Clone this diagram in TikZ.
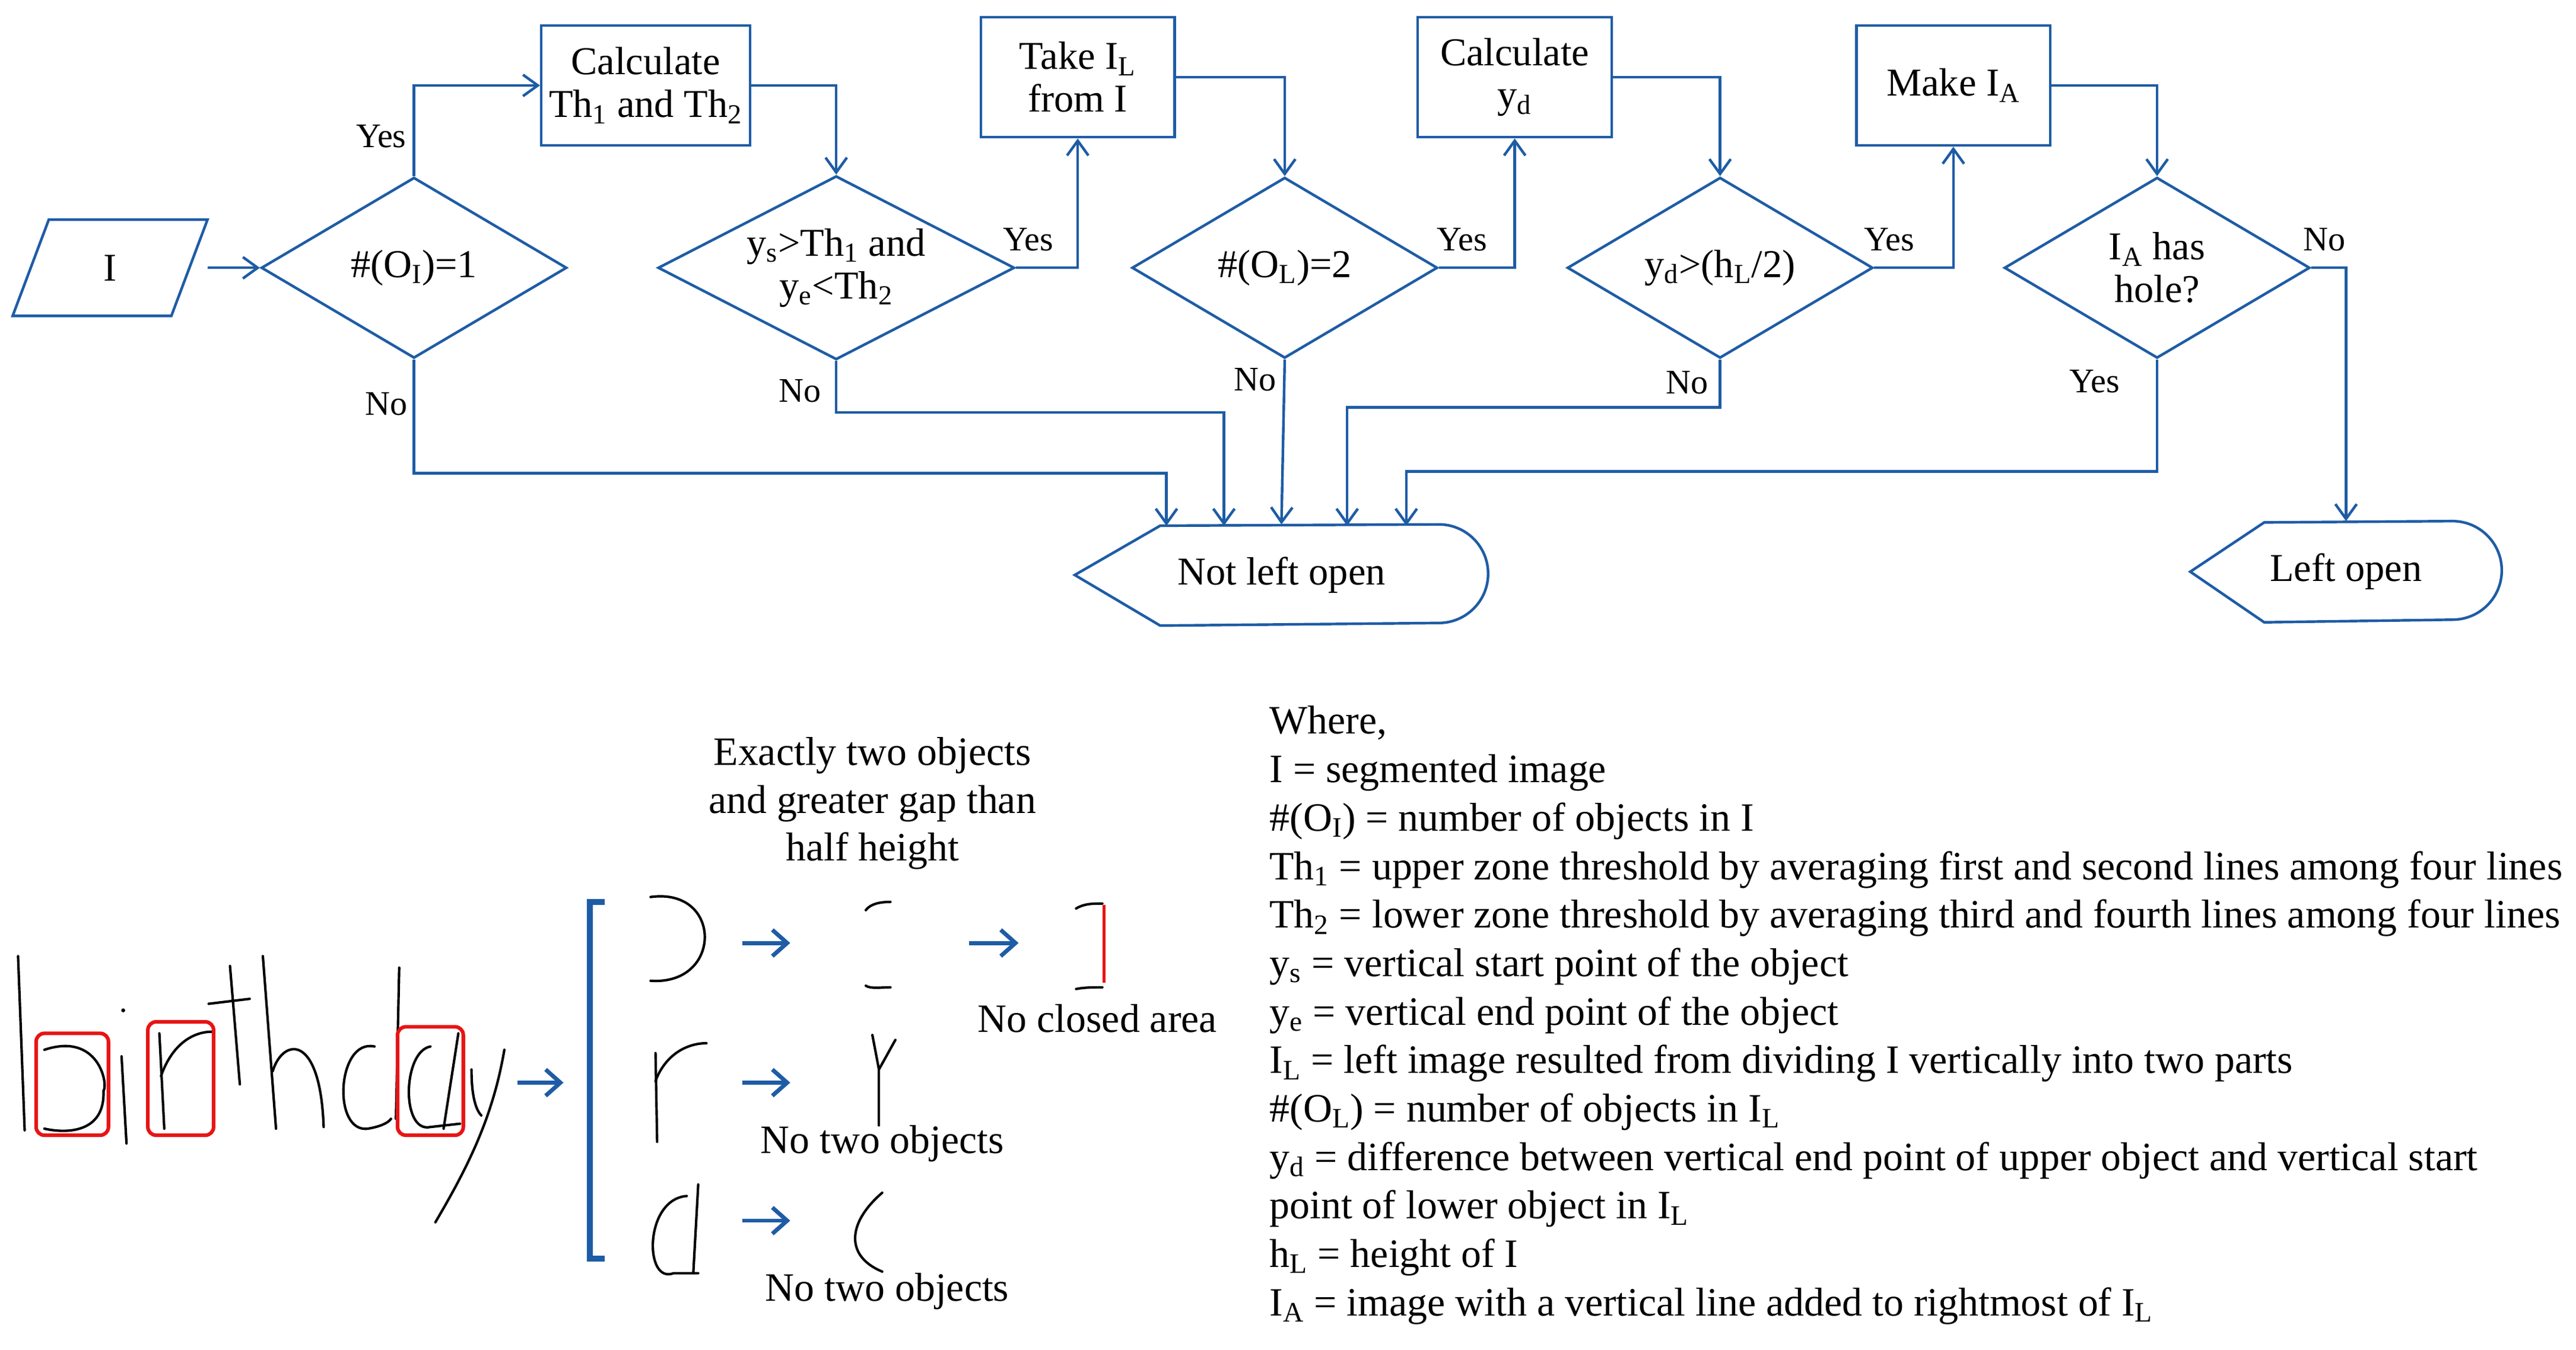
\documentclass[tikz,border=0pt]{standalone}
\usepackage{fontspec}
\setmainfont{Liberation Serif}
\usetikzlibrary{shapes.geometric,arrows.meta,calc}
\definecolor{fb}{RGB}{30,92,165}
\definecolor{rd}{RGB}{232,20,20}
\begin{document}
\begin{tikzpicture}[x=1pt,y=1pt,
  line width=1.6pt,
  ft/.style={font=\fontsize{24}{26}\selectfont},
  lab/.style={font=\fontsize{21}{23}\selectfont},
  box/.style={draw=fb,rectangle,minimum width=118,minimum height=73,inner sep=0,align=center,ft},
  dia/.style={draw=fb,diamond,aspect=1.7,minimum width=186,minimum height=110,inner sep=0,align=center,ft},
  con/.style={draw=fb,-{Straight Barb[length=9pt,width=13pt]}},
  hw/.style={black,line width=1.5pt,line cap=round},
  rb/.style={rd,line width=2.2pt,rounded corners=5pt},
  barr/.style={fb,line width=2.5pt,-{Straight Barb[length=9pt,width=16pt]}},
  txt/.style={font=\fontsize{24.5}{27}\selectfont,inner sep=0}
]
\useasboundingbox (0,0) rectangle (1568,-821.4);
% input
\node[inner sep=0,minimum width=117,minimum height=57,ft] (in) at (67,-163) {I};
\draw[fb] ($(in.south west)$) -- ($(in.north west)+(22,0)$) -- (in.north east) -- ($(in.south east)+(-22,0)$) -- cycle;
\node[dia] (d1) at (252,-163) {\#(O\textsubscript{I})=1};
\node[box,minimum width=127] (b1) at (393,-52) {Calculate\\Th\textsubscript{1} and Th\textsubscript{2}};
\node[dia,minimum width=217] (d2) at (509,-163) {y\textsubscript{s}>Th\textsubscript{1} and\\y\textsubscript{e}<Th\textsubscript{2}};
\node[box] (b2) at (656,-47) {Take I\textsubscript{L}\\from I};
\node[dia] (d3) at (782,-163) {\#(O\textsubscript{L})=2};
\node[box] (b3) at (922,-47) {Calculate\\y\textsubscript{d}};
\node[dia] (d4) at (1047,-163) {y\textsubscript{d}>(h\textsubscript{L}/2)};
\node[box] (b4) at (1189,-52) {Make I\textsubscript{A}};
\node[dia] (d5) at (1313,-163) {I\textsubscript{A} has\\hole?};
% terminals
\node[minimum width=250,minimum height=60,inner sep=0,ft] (nlo) at (780,-350) {Not left open};
\draw[fb] (nlo.west) -- ++(52,30) -- ($(nlo.north east)+(-30,0)$) arc (90:-90:30) -- ($(nlo.south west)+(52,0)$) -- cycle;
\node[minimum width=188,minimum height=60,inner sep=0,ft] (lo) at (1428,-348) {Left open};
\draw[fb] (lo.west) -- ++(45,30) -- ($(lo.north east)+(-30,0)$) arc (90:-90:30) -- ($(lo.south west)+(45,0)$) -- cycle;
% yes path
\draw[con] (in.east) -- (d1.west);
\draw[con] (d1.north) |- (b1.west);
\draw[con] (b1.east) -| (d2.north);
\draw[con] (d2.east) -| (b2.south);
\draw[con] (b2.east) -| (d3.north);
\draw[con] (d3.east) -| (b3.south);
\draw[con] (b3.east) -| (d4.north);
\draw[con] (d4.east) -| (b4.south);
\draw[con] (b4.east) -| (d5.north);
\draw[con] (d5.east) -| (lo.north);
% no paths
\coordinate (n1) at (710,-320);
\coordinate (n2) at (745,-320);
\coordinate (n4) at (820,-320);
\coordinate (n5) at (856,-320);
\draw[con] (d1.south) |- (710,-288) -- (n1);
\draw[con] (d2.south) |- (745,-251) -- (n2);
\draw[con] (d3.south) -- (nlo.north);
\draw[con] (d4.south) |- (820,-248) -- (n4);
\draw[con] (d5.south) |- (856,-287) -- (n5);
% labels
\node[lab] at (232,-83) {Yes};
\node[lab] at (235,-246) {No};
\node[lab] at (626,-146) {Yes};
\node[lab] at (487,-238) {No};
\node[lab] at (890,-146) {Yes};
\node[lab] at (764,-231) {No};
\node[lab] at (1150,-146) {Yes};
\node[lab] at (1027,-233) {No};
\node[lab] at (1415,-146) {No};
\node[lab] at (1275,-232) {Yes};
% legend
\node[anchor=north west,align=left,inner sep=0,font=\fontsize{24.5}{29.5}\selectfont] (leg) at (772,-429) {Where,\\
I = segmented image\\
\#(O\textsubscript{I}) = number of objects in I\\
Th\textsubscript{1} = upper zone threshold by averaging first and second lines among four lines\\
Th\textsubscript{2} = lower zone threshold by averaging third and fourth lines among four lines\\
y\textsubscript{s} = vertical start point of the object\\
y\textsubscript{e} = vertical end point of the object\\
I\textsubscript{L} = left image resulted from dividing I vertically into two parts\\
\#(O\textsubscript{L}) = number of objects in I\textsubscript{L}\\
y\textsubscript{d} = difference between vertical end point of upper object and vertical start\\
point of lower object in I\textsubscript{L}\\
h\textsubscript{L} = height of I\\
I\textsubscript{A} = image with a vertical line added to rightmost of I\textsubscript{L}};
% handwriting "birthday"
\draw[hw] (11,-582) -- (15,-688);
\draw[hw] (27,-639) .. controls (60,-628) and (66,-660) .. (63,-664) .. controls (64,-690) and (40,-690) .. (27,-687);
\draw[hw] (74,-643) -- (77,-696); \fill (75,-615) circle (1.2);
\draw[hw] (97,-629) -- (100,-687);
\draw[hw] (98,-655) .. controls (105,-635) and (118,-628) .. (129,-628);
\draw[hw] (140,-588) -- (146,-660);
\draw[hw] (127,-611) -- (152,-608);
\draw[hw] (160,-582) -- (168,-687);
\draw[hw] (166,-652) .. controls (172,-632) and (195,-628) .. (197,-686);
\draw[hw] (228,-637) .. controls (205,-632) and (202,-690) .. (224,-687) .. controls (230,-686) and (236,-684) .. (238,-681);
\draw[hw] (243,-589) -- (241,-681);
\draw[hw] (262,-637) .. controls (245,-640) and (244,-690) .. (262,-686) -- (280,-684);
\draw[hw] (279,-629) -- (270,-687);
\draw[hw] (287,-651) .. controls (287,-665) and (289,-675) .. (293,-679);
\draw[hw] (307,-639) .. controls (300,-680) and (285,-710) .. (265,-744);
\draw[rb] (22,-629) rectangle (66,-691);
\draw[rb] (90,-622) rectangle (130,-691);
\draw[rb] (242,-625) rectangle (282,-691);
\draw[barr] (315,-659) -- (343,-659);
% bracket
\draw[fb,line width=3.5pt] (368,-549) -- (359,-549) -- (359,-766) -- (368,-766);
% row 1
\draw[hw] (396,-546) .. controls (440,-540) and (440,-600) .. (396,-597);
\draw[barr] (452,-574) -- (481,-574);
\draw[hw] (527,-554) .. controls (530,-550) and (536,-549) .. (542,-549);
\draw[hw] (527,-600) .. controls (530,-602) and (536,-601) .. (542,-601);
\draw[barr] (590,-574) -- (620,-574);
\draw[hw] (655,-553) .. controls (660,-550) and (665,-550) .. (671,-550);
\draw[hw] (655,-602) .. controls (660,-601) and (665,-601) .. (671,-601);
\draw[rd,line width=2pt] (672,-551) -- (672,-598);
\node[txt] (t1) at (668,-620) {No closed area};
\node[txt,align=center,font=\fontsize{24.5}{29}\selectfont] (t0) at (531,-489) {Exactly two objects\\and greater gap than\\half height};
% row 2
\draw[hw] (399,-641) -- (400,-695);
\draw[hw] (399,-658) .. controls (405,-642) and (418,-635) .. (430,-635);
\draw[barr] (452,-659) -- (481,-659);
\draw[hw] (531,-630) -- (535,-651) -- (545,-633);
\draw[hw] (535,-651) -- (535,-685);
\node[txt] (t2) at (537,-696) {No two objects};
% row 3
\draw[hw] (418,-728) .. controls (392,-730) and (392,-782) .. (410,-775) -- (425,-775);
\draw[hw] (425,-721) -- (422,-775);
\draw[barr] (452,-743) -- (481,-743);
\draw[hw] (537,-726) .. controls (515,-745) and (515,-765) .. (537,-774);
\node[txt] (t3) at (540,-786) {No two objects};
\end{tikzpicture}
\end{document}
